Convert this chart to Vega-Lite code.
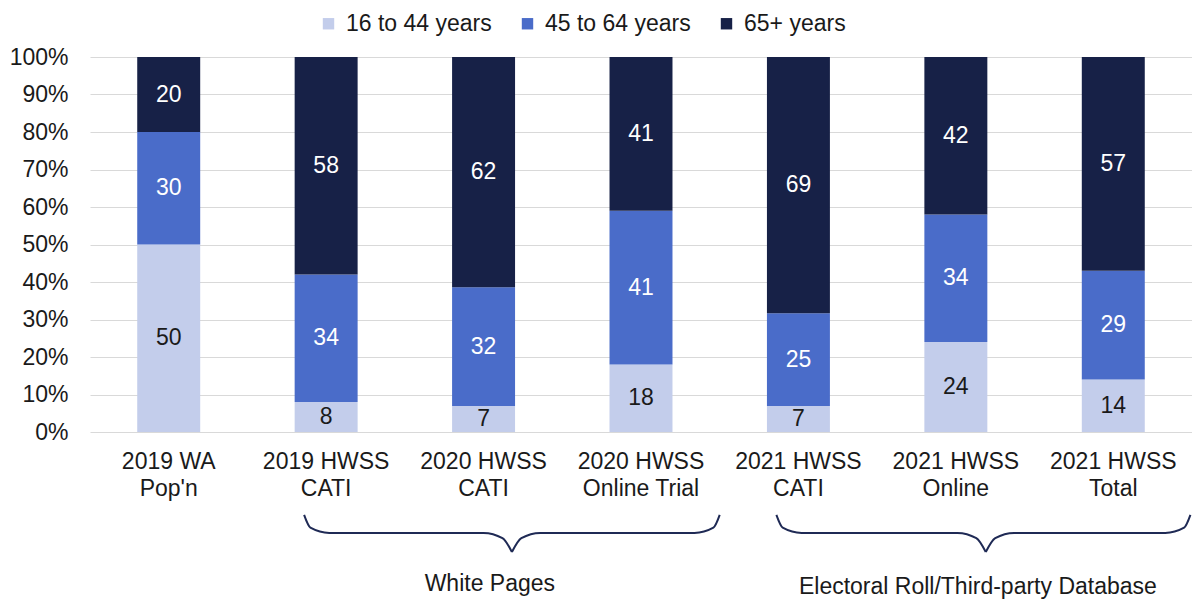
{
  "$schema": "https://vega.github.io/schema/vega-lite/v6.json",
  "width": 1102,
  "height": 375,
  "autosize": "none",
  "padding": {"left": 90, "top": 57, "right": 0, "bottom": 172},
  "background": "white",
  "config": {
    "view": {"stroke": null},
    "font": "Liberation Sans",
    "legend": {
      "orient": "none",
      "legendX": 227,
      "legendY": -45,
      "direction": "horizontal",
      "labelFontSize": 23,
      "labelColor": "#1a1a1a",
      "symbolType": "square",
      "symbolSize": 130,
      "symbolStrokeWidth": 0,
      "columnPadding": 24,
      "labelOffset": 6
    }
  },
  "datasets": {
    "bars": [
      {"cat": "2019 WA|Pop'n", "group": "16 to 44 years", "ord": 1, "value": 50},
      {"cat": "2019 WA|Pop'n", "group": "45 to 64 years", "ord": 2, "value": 30},
      {"cat": "2019 WA|Pop'n", "group": "65+ years", "ord": 3, "value": 20},
      {"cat": "2019 HWSS|CATI", "group": "16 to 44 years", "ord": 1, "value": 8},
      {"cat": "2019 HWSS|CATI", "group": "45 to 64 years", "ord": 2, "value": 34},
      {"cat": "2019 HWSS|CATI", "group": "65+ years", "ord": 3, "value": 58},
      {"cat": "2020 HWSS|CATI", "group": "16 to 44 years", "ord": 1, "value": 7},
      {"cat": "2020 HWSS|CATI", "group": "45 to 64 years", "ord": 2, "value": 32},
      {"cat": "2020 HWSS|CATI", "group": "65+ years", "ord": 3, "value": 62},
      {"cat": "2020 HWSS|Online Trial", "group": "16 to 44 years", "ord": 1, "value": 18},
      {"cat": "2020 HWSS|Online Trial", "group": "45 to 64 years", "ord": 2, "value": 41},
      {"cat": "2020 HWSS|Online Trial", "group": "65+ years", "ord": 3, "value": 41},
      {"cat": "2021 HWSS|CATI", "group": "16 to 44 years", "ord": 1, "value": 7},
      {"cat": "2021 HWSS|CATI", "group": "45 to 64 years", "ord": 2, "value": 25},
      {"cat": "2021 HWSS|CATI", "group": "65+ years", "ord": 3, "value": 69},
      {"cat": "2021 HWSS|Online", "group": "16 to 44 years", "ord": 1, "value": 24},
      {"cat": "2021 HWSS|Online", "group": "45 to 64 years", "ord": 2, "value": 34},
      {"cat": "2021 HWSS|Online", "group": "65+ years", "ord": 3, "value": 42},
      {"cat": "2021 HWSS|Total", "group": "16 to 44 years", "ord": 1, "value": 14},
      {"cat": "2021 HWSS|Total", "group": "45 to 64 years", "ord": 2, "value": 29},
      {"cat": "2021 HWSS|Total", "group": "65+ years", "ord": 3, "value": 57}
    ],
    "braces": [
      {"seg": "A1", "x": 1.36, "y": -0.221},
      {"seg": "A1", "x": 1.40, "y": -0.255},
      {"seg": "A1", "x": 1.52, "y": -0.269},
      {"seg": "A1", "x": 2.50, "y": -0.269},
      {"seg": "A1", "x": 2.62, "y": -0.283},
      {"seg": "A1", "x": 2.68, "y": -0.32},
      {"seg": "A2", "x": 2.68, "y": -0.32},
      {"seg": "A2", "x": 2.74, "y": -0.283},
      {"seg": "A2", "x": 2.86, "y": -0.269},
      {"seg": "A2", "x": 3.84, "y": -0.269},
      {"seg": "A2", "x": 3.96, "y": -0.255},
      {"seg": "A2", "x": 4.00, "y": -0.221},
      {"seg": "B1", "x": 4.36, "y": -0.221},
      {"seg": "B1", "x": 4.40, "y": -0.255},
      {"seg": "B1", "x": 4.52, "y": -0.269},
      {"seg": "B1", "x": 5.51, "y": -0.269},
      {"seg": "B1", "x": 5.63, "y": -0.283},
      {"seg": "B1", "x": 5.69, "y": -0.32},
      {"seg": "B2", "x": 5.69, "y": -0.32},
      {"seg": "B2", "x": 5.75, "y": -0.283},
      {"seg": "B2", "x": 5.87, "y": -0.269},
      {"seg": "B2", "x": 6.83, "y": -0.269},
      {"seg": "B2", "x": 6.95, "y": -0.255},
      {"seg": "B2", "x": 6.99, "y": -0.221}
    ],
    "braceLabels": [
      {"label": "White Pages", "x": 2.54, "y": -0.405},
      {"label": "Electoral Roll/Third-party Database", "x": 5.64, "y": -0.413}
    ]
  },
  "layer": [
    {
      "data": {"name": "bars"},
      "layer": [
        {
          "mark": {"type": "bar"},
          "encoding": {
            "x": {
              "field": "cat", "type": "nominal", "sort": null,
              "scale": {"paddingInner": 0.6, "paddingOuter": 0.3},
              "axis": {
                "title": null, "labelAngle": 0, "domain": false, "ticks": false,
                "labelFontSize": 23, "labelColor": "#1a1a1a", "labelPadding": 18,
                "labelLineHeight": 27, "labelExpr": "split(datum.label, '|')",
                "labelBaseline": "top"
              }
            },
            "y": {
              "field": "value", "type": "quantitative", "stack": "normalize",
              "scale": {"domain": [0, 1], "nice": false},
              "axis": {
                "title": null, "format": ".0%", "values": [0, 0.1, 0.2, 0.3, 0.4, 0.5, 0.6, 0.7, 0.8, 0.9, 1],
                "domain": false, "ticks": false, "grid": true, "gridColor": "#d9d9d9",
                "labelFontSize": 23, "labelColor": "#1a1a1a", "labelPadding": 22,
                "labelOverlap": false
              }
            },
            "color": {
              "field": "group", "type": "nominal",
              "scale": {"domain": ["16 to 44 years", "45 to 64 years", "65+ years"], "range": ["#c3cdeb", "#4a6cc9", "#172147"]},
              "legend": {"title": null}
            },
            "order": {"field": "ord"}
          }
        },
        {
          "transform": [
            {"stack": "value", "groupby": ["cat"], "sort": [{"field": "ord"}], "offset": "normalize", "as": ["v0", "v1"]},
            {"calculate": "(datum.v0 + datum.v1) / 2", "as": "mid"}
          ],
          "mark": {"type": "text", "fontSize": 23, "baseline": "middle"},
          "encoding": {
            "x": {
              "field": "cat", "type": "nominal", "sort": null,
              "axis": {
                "title": null, "labelAngle": 0, "domain": false, "ticks": false,
                "labelFontSize": 23, "labelColor": "#1a1a1a", "labelPadding": 18,
                "labelLineHeight": 27, "labelExpr": "split(datum.label, '|')",
                "labelBaseline": "top"
              }
            },
            "y": {
              "field": "mid", "type": "quantitative",
              "axis": {
                "title": null, "format": ".0%", "values": [0, 0.1, 0.2, 0.3, 0.4, 0.5, 0.6, 0.7, 0.8, 0.9, 1],
                "domain": false, "ticks": false, "grid": true, "gridColor": "#d9d9d9",
                "labelFontSize": 23, "labelColor": "#1a1a1a", "labelPadding": 22,
                "labelOverlap": false
              }
            },
            "text": {"field": "value"},
            "color": {"condition": {"test": "datum.group === '16 to 44 years'", "value": "#1a1a1a"}, "value": "white"}
          }
        }
      ]
    },
    {
      "layer": [
        {
          "data": {"name": "braces"},
          "mark": {"type": "line", "interpolate": "monotone", "strokeWidth": 2, "color": "#1f2a55", "clip": false},
          "encoding": {
            "x": {"field": "x", "type": "quantitative", "scale": {"domain": [0, 7], "nice": false, "zero": false}, "axis": null},
            "y": {"field": "y", "type": "quantitative", "scale": {"domain": [0, 1], "nice": false, "zero": false}, "axis": null},
            "detail": {"field": "seg"}
          }
        },
        {
          "data": {"name": "braceLabels"},
          "mark": {"type": "text", "fontSize": 23, "color": "#1a1a1a", "baseline": "middle", "clip": false},
          "encoding": {
            "x": {"field": "x", "type": "quantitative"},
            "y": {"field": "y", "type": "quantitative"},
            "text": {"field": "label"}
          }
        }
      ]
    }
  ],
  "resolve": {"scale": {"x": "independent", "y": "independent"}}
}
